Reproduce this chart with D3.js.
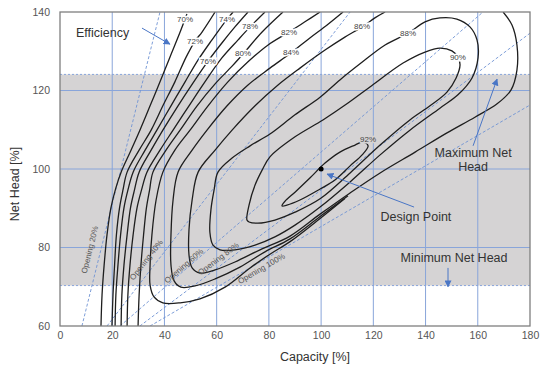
<!DOCTYPE html>
<html>
<head>
<meta charset="utf-8">
<title>Hill Chart</title>
<script src="https://d3js.org/d3.v7.min.js"></script>
<style>
  body { margin: 0; background: #fff; }
  svg text { font-family: "Liberation Sans", Arial, sans-serif; }
</style>
</head>
<body>
<div id="chart"></div>
<script>
// axis ticks
const capTicks = [0, 20, 40, 60, 80, 100, 120, 140, 160, 180];
const headTicks = [60, 80, 100, 120, 140];

// operating head range (shaded band) and design point, [capacity %, head %]
const headRange = [70.3, 124.1];
const designPoint = [100, 100];

// efficiency contours, points as [capacity %, net head %]
const eff70 = [[15.7,60],[16.1,67.9],[16.9,75.5],[18.0,83.2],[19.5,90.1],[21.4,95.2],[23.4,99.2],[27.2,104.8],[30.6,109.9],[34.5,116.1],[38.3,122.2],[42.1,128.5],[46.0,134.9],[48.6,139.5]];
const eff72 = [[19.9,60],[20.3,67.9],[20.9,75.5],[21.6,83.2],[22.8,90.1],[24.1,94.6],[25.7,99.2],[30.3,104.8],[34.9,109.9],[39.4,116.1],[44.0,122.2],[48.3,128.5],[51.7,132.6],[54.4,134.9],[59.4,140]];
const eff74 = [[21.1,60],[21.4,67.9],[22.2,75.5],[23.2,83.2],[24.5,90.1],[26.0,94.6],[28.0,99.2],[32.6,104.8],[37.1,109.9],[42.5,116.1],[47.9,122.2],[52.9,127.8],[58.2,132.9],[64.0,138.2],[66.3,140]];
const eff76 = [[23.4,60],[23.7,67.9],[24.5,75.5],[25.7,83.2],[27.0,90.1],[28.5,94.6],[30.3,99.2],[34.9,104.8],[39.4,109.9],[45.2,116.1],[50.9,121.9],[56.7,127.5],[62.0,132.1],[67.0,136.2],[72.0,140]];
const eff78 = [[25.7,60],[26.0,67.9],[26.8,75.5],[28.0,83.2],[29.5,90.1],[31.2,94.6],[33.3,99.2],[38.3,104.8],[43.3,109.9],[49.4,116.1],[55.5,122.2],[62.0,128.3],[68.2,132.9],[72.8,136.2],[78.5,140]];
const eff80 = [[29.9,60],[30.3,67.9],[31.0,75.5],[32.0,83.2],[33.1,90.1],[34.3,94.6],[35.6,99.2],[40.6,104.8],[46.0,109.9],[52.5,116.1],[59.4,121.7],[65.9,126.2],[70.1,129.3],[77.4,134.9],[85.4,140]];
const eff82 = [[99.6,140],[93.8,137.5],[87.7,134.9],[79.7,131.6],[72.0,127.3],[64.3,122.2],[56.7,116.1],[49.8,109.9],[44.0,104.8],[39.4,99.2],[36.8,92.1],[35.2,83.2],[34.5,75.5],[34.5,70.4],[36.0,67.4],[39.4,65.9],[46.0,65.9],[53.6,66.9],[63.2,69.9],[72.8,74.8],[80.4,78.3],[88.1,81.5],[99.6,87.4],[109.1,92.5]];
const eff84 = [[108.4,140],[102.3,136.7],[95.7,133.4],[88.5,129.6],[80.4,125.7],[72.0,121.4],[64.0,116.1],[56.3,109.9],[50.6,104.8],[45.2,99.2],[43.3,92.1],[42.5,83.2],[42.5,75.5],[43.7,71.5],[46.3,69.9],[51.7,70.2],[59.4,72.0],[68.9,75.0],[78.5,78.9],[88.1,82.2],[99.6,87.9],[110.3,93.2]];
const eff86 = [[124.5,140],[120.6,138.5],[115.7,136.2],[109.1,133.6],[101.5,130.3],[91.9,125.7],[83.5,121.4],[74.7,116.1],[65.9,109.9],[59.4,104.8],[52.9,99.2],[50.6,92.1],[49.4,84.5],[49.4,78.1],[50.6,74.8],[53.6,73.5],[59.4,74.3],[67.0,76.3],[76.6,79.4],[88.1,82.9],[99.6,88.5],[111.1,93.9],[122.6,99.0],[136.0,104.3],[148.2,109.2],[158.9,113.2],[167.4,116.6],[172.7,120.1],[175.0,125.2],[175.0,131.6],[173.1,136.7],[169.7,140]];
const eff88 = [[60.5,99.2],[65.9,102.8],[72.8,105.9],[80.4,108.9],[90.0,113.8],[99.6,118.3],[107.2,122.7],[114.9,126.8],[124.5,131.6],[133.3,134.6],[139.8,137.5],[145.5,138.5],[152.0,138.2],[157.0,136.2],[159.7,132.9],[160.1,128.3],[157.8,123.2],[152.4,118.9],[145.5,115.5],[134.0,109.9],[122.6,103.6],[111.1,96.7],[99.6,90.3],[90.0,85.7],[82.3,82.7],[74.7,80.6],[67.0,79.4],[61.3,79.4],[58.6,80.6],[57.4,83.9],[57.8,89.6],[59.0,94.6]];
const eff90 = [[71.6,87.0],[72.4,90.8],[74.7,95.9],[77.4,99.7],[80.4,103.1],[90.0,108.2],[100.7,112.5],[110.3,116.8],[118.7,120.9],[131.4,127.0],[139.8,129.8],[145.5,130.8],[150.1,130.1],[152.4,128.5],[153.2,126.5],[151.7,123.2],[148.2,119.6],[141.7,116.1],[134.0,112.5],[122.6,106.1],[111.1,99.0],[99.6,92.4],[90.0,89.0],[82.3,87.0],[75.8,86.2],[72.4,86.5]];
const eff92 = [[118.0,105.9],[115.7,103.6],[111.1,100.8],[105.3,97.2],[99.6,94.9],[91.9,92.1],[86.9,90.8],[85.0,90.6],[86.2,91.8],[90.0,94.1],[95.7,97.7],[101.5,101.5],[107.2,104.3],[113.0,106.1],[116.0,106.9]];

const effLabels = ["70%","72%","74%","76%","78%","80%","82%","84%","86%","88%","90%","92%"];
const effPoints = [eff70, eff72, eff74, eff76, eff78, eff80, eff82, eff84, eff86, eff88, eff90, eff92];
const effClosed = [false,false,false,false,false,false,false,false,false,true,true,true];
const effLabelAt = [[47.9,138.0],[51.7,132.6],[64.0,138.2],[56.7,127.5],[72.8,136.2],[70.1,129.3],[87.7,134.9],[88.5,129.6],[115.7,136.2],[133.3,134.6],[152.4,128.5],[118.0,107.4]];

// guide vane opening lines
const openingLabels = ["Opening 20%","Opening 40%","Opening 60%","Opening 80%","Opening 100%"];
const openingLines = [
  [[8.4,60],[38.3,140]],
  [[18.0,60],[111.1,140]],
  [[23.0,60],[162.0,140]],
  [[30.6,60],[180,134.6]],
  [[34.5,60],[180,116.3]]
];
const openingLabelAt = [[11.5,79.4],[33.1,76.8],[47.5,75.3],[60.7,77.1],[77.2,74.6]];

// callouts: text lines, text anchor point, arrow from -> to
const callouts = [
  {lines: ["Efficiency"], at: [6.1,134.6], anchor: "start", from: [31.4,135.9], to: [42.1,131.8]},
  {lines: ["Design Point"], at: [136.3,87.8], anchor: "middle", from: [135.6,90.3], to: [102.3,98.7]},
  {lines: ["Maximum Net","Head"], at: [158.2,104.1], anchor: "middle", from: [158.2,105.9], to: [167.4,122.9]},
  {lines: ["Minimum Net Head"], at: [150.9,77.3], anchor: "middle", from: [148.6,74.8], to: [148.6,70.0]}
];

const W = 550, H = 368;
const x = d3.scaleLinear().domain([0, 180]).range([60, 530]);
const y = d3.scaleLinear().domain([60, 140]).range([326, 12]);

const svg = d3.select("#chart").append("svg")
  .attr("width", W).attr("height", H);

const blue = "#4a76c6";
const gridBlue = "#89a5da";
const bandGray = "#d5d3d4";

const defs = svg.append("defs");
defs.append("clipPath").attr("id", "plot-clip")
  .append("rect")
  .attr("x", x(0)).attr("y", y(140))
  .attr("width", x(180) - x(0)).attr("height", y(60) - y(140));
defs.append("marker")
  .attr("id", "arrow")
  .attr("viewBox", "0 0 10 10")
  .attr("refX", 9).attr("refY", 5)
  .attr("markerWidth", 7).attr("markerHeight", 7)
  .attr("markerUnits", "userSpaceOnUse")
  .attr("orient", "auto")
  .append("path").attr("d", "M0,0 L10,5 L0,10 z").attr("fill", blue);

// shaded operating band
svg.append("rect")
  .attr("x", x(0)).attr("y", y(headRange[1]))
  .attr("width", x(180) - x(0)).attr("height", y(headRange[0]) - y(headRange[1]))
  .attr("fill", bandGray);

// grid
const grid = svg.append("g");
grid.selectAll("line.v").data(capTicks.filter(d => d > 0 && d < 180)).join("line")
  .attr("x1", d => x(d)).attr("x2", d => x(d))
  .attr("y1", y(140)).attr("y2", y(60))
  .attr("stroke", gridBlue).attr("stroke-width", 1);
grid.selectAll("line.h").data(headTicks.filter(d => d > 60 && d < 140)).join("line")
  .attr("x1", x(0)).attr("x2", x(180))
  .attr("y1", d => y(d)).attr("y2", d => y(d))
  .attr("stroke", gridBlue).attr("stroke-width", 1);

// band edges
svg.selectAll("line.band").data(headRange).join("line")
  .attr("x1", x(0)).attr("x2", x(180))
  .attr("y1", d => y(d)).attr("y2", d => y(d))
  .attr("stroke", gridBlue).attr("stroke-width", 1)
  .attr("stroke-dasharray", "2,2");

const plot = svg.append("g").attr("clip-path", "url(#plot-clip)");

// opening lines
plot.selectAll("line.open").data(openingLines).join("line")
  .attr("x1", d => x(d[0][0])).attr("y1", d => y(d[0][1]))
  .attr("x2", d => x(d[1][0])).attr("y2", d => y(d[1][1]))
  .attr("stroke", "#6f93d4").attr("stroke-width", 0.9)
  .attr("stroke-dasharray", "3,2");

openingLabels.forEach((t, i) => {
  const l = openingLines[i];
  const ang = Math.atan2(y(l[1][1]) - y(l[0][1]), x(l[1][0]) - x(l[0][0])) * 180 / Math.PI;
  const p = openingLabelAt[i];
  svg.append("text")
    .attr("transform", `translate(${x(p[0])},${y(p[1])}) rotate(${ang})`)
    .attr("text-anchor", "middle").attr("dominant-baseline", "central")
    .attr("font-size", 8).attr("fill", "#555")
    .text(t);
});

// efficiency contours
const lineOpen = d3.line().x(d => x(d[0])).y(d => y(d[1])).curve(d3.curveCatmullRom.alpha(0.5));
const lineClosed = d3.line().x(d => x(d[0])).y(d => y(d[1])).curve(d3.curveCatmullRomClosed.alpha(0.5));

effPoints.forEach((pts, i) => {
  plot.append("path")
    .attr("d", effClosed[i] ? lineClosed(pts) : lineOpen(pts))
    .attr("fill", "none")
    .attr("stroke", "#1e1e1e")
    .attr("stroke-width", 1.3);
});

effLabels.forEach((t, i) => {
  const p = effLabelAt[i];
  const bg = p[1] > headRange[1] ? "#fff" : bandGray;
  svg.append("text")
    .attr("x", x(p[0])).attr("y", y(p[1]))
    .attr("text-anchor", "middle").attr("dominant-baseline", "central")
    .attr("font-size", 8).attr("fill", "#444")
    .attr("stroke", bg).attr("stroke-width", 3).attr("paint-order", "stroke")
    .text(t);
});

// design point
svg.append("circle")
  .attr("cx", x(designPoint[0])).attr("cy", y(designPoint[1]))
  .attr("r", 2.5).attr("fill", "#000");

// callouts
callouts.forEach(c => {
  svg.append("line")
    .attr("x1", x(c.from[0])).attr("y1", y(c.from[1]))
    .attr("x2", x(c.to[0])).attr("y2", y(c.to[1]))
    .attr("stroke", blue).attr("stroke-width", 1)
    .attr("marker-end", "url(#arrow)");
  const t = svg.append("text")
    .attr("x", x(c.at[0])).attr("y", y(c.at[1]))
    .attr("text-anchor", c.anchor).attr("dominant-baseline", "central")
    .attr("font-size", 12.5).attr("fill", "#333");
  c.lines.forEach((s, k) => {
    t.append("tspan").attr("x", x(c.at[0])).attr("dy", k ? 14 : 0).text(s);
  });
});

// frame
svg.append("rect")
  .attr("x", x(0)).attr("y", y(140))
  .attr("width", x(180) - x(0)).attr("height", y(60) - y(140))
  .attr("fill", "none").attr("stroke", "#7f7f7f").attr("stroke-width", 1.3);

// axes
const xAxis = svg.append("g").attr("transform", `translate(0,${y(60)})`)
  .call(d3.axisBottom(x).tickValues(capTicks).tickSize(0).tickPadding(6));
const yAxis = svg.append("g").attr("transform", `translate(${x(0)},0)`)
  .call(d3.axisLeft(y).tickValues(headTicks).tickSize(0).tickPadding(10));
[xAxis, yAxis].forEach(a => {
  a.select(".domain").remove();
  a.selectAll("text").attr("font-size", 10.5).attr("fill", "#555")
    .attr("font-family", "Liberation Sans, Arial, sans-serif");
});

svg.append("text")
  .attr("x", 315).attr("y", 357)
  .attr("text-anchor", "middle").attr("dominant-baseline", "central")
  .attr("font-size", 12.5).attr("fill", "#333")
  .text("Capacity [%]");
svg.append("text")
  .attr("transform", "translate(15,184) rotate(-90)")
  .attr("text-anchor", "middle").attr("dominant-baseline", "central")
  .attr("font-size", 12.5).attr("fill", "#333")
  .text("Net Head [%]");
</script>
</body>
</html>
